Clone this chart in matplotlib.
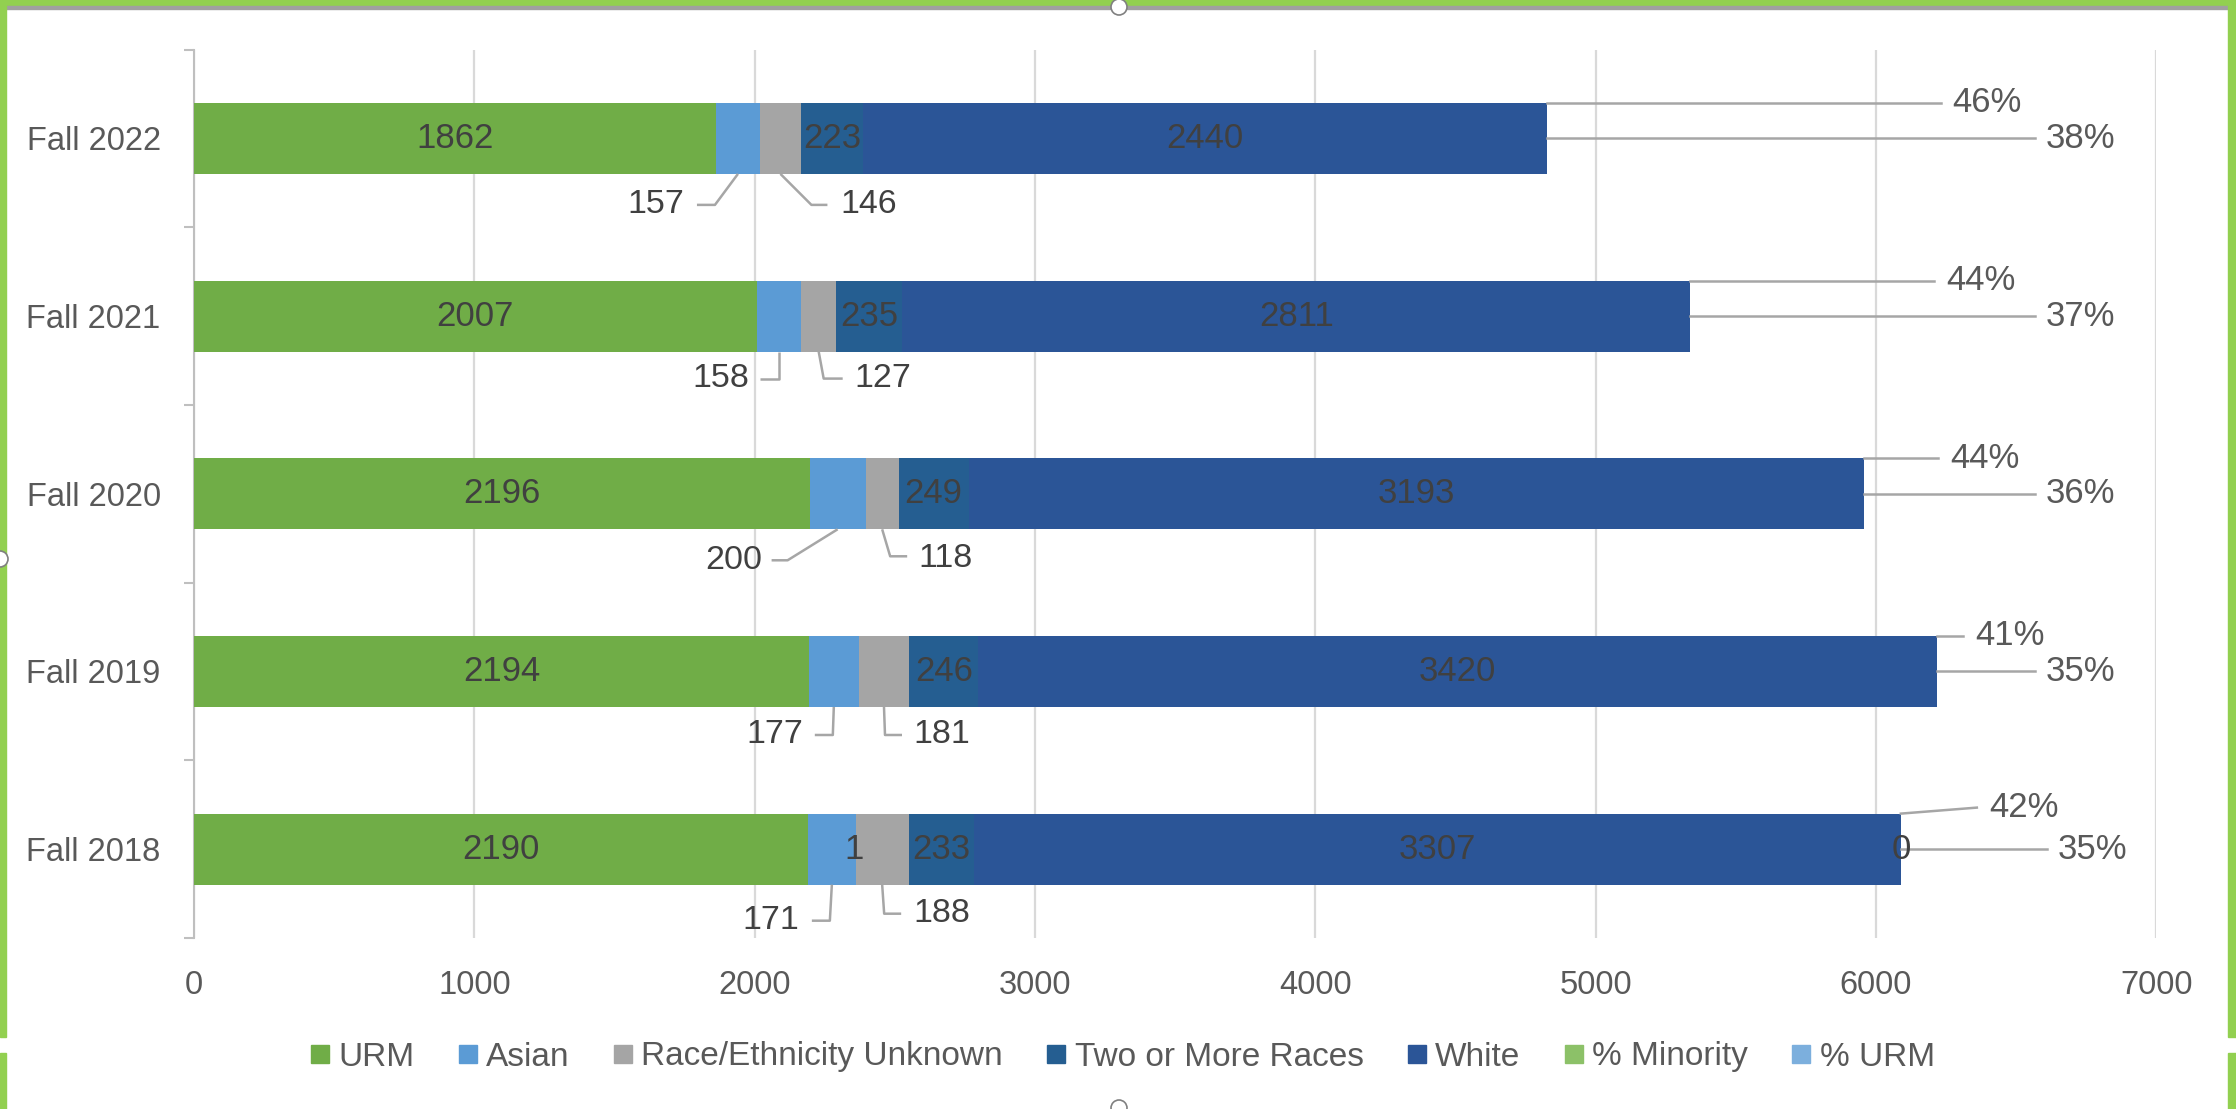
import matplotlib
matplotlib.use("Agg")
import matplotlib.pyplot as plt
from matplotlib.patches import Rectangle, Ellipse
from matplotlib.lines import Line2D
import numpy as np

plt.rcParams['font.family'] = ['Liberation Sans', 'DejaVu Sans']

# ---------------- data (bottom row first) ----------------
terms = ['Fall 2018', 'Fall 2019', 'Fall 2020', 'Fall 2021', 'Fall 2022']
urm = [2190, 2194, 2196, 2007, 1862]
asian = [171, 177, 200, 158, 157]
unknown = [188, 181, 118, 127, 146]
two_more = [233, 246, 249, 235, 223]
white = [3307, 3420, 3193, 2811, 2440]
pct_minority = [42, 41, 44, 44, 46]
pct_urm = [35, 35, 36, 37, 38]
x_ticks = [0, 1000, 2000, 3000, 4000, 5000, 6000, 7000]
series_names = ['URM', 'Asian', 'Race/Ethnicity Unknown', 'Two or More Races',
                'White', '% Minority', '% URM']

# ---------------- styles / label placement ----------------
colors = ['#70AD47', '#5B9BD5', '#A5A5A5', '#255E91', '#2B5597', '#8CC168', '#7CAFDD']
LBL = '#404040'
AX = '#595959'
LEAD = '#A6A6A6'
FS = 23.5

# leader offsets in pixels (bend dx, bend dy, end dx, end dy), text offset
asian_lead = [(-2, 36, -20, 36), (-1, 28, -19, 28), (-50, 31, -66, 31),
              (0, 27, -19, 27), (-23, 31, -41, 31)]
asian_txt = [(-33, 36), (-31, 28), (-75, 31), (-29, 27), (-54, 31)]
unk_lead = [(2, 29, 19, 29), (1, 28, 18, 28), (8, 27, 25, 27),
            (5, 27, 24, 27), (31, 31, 47, 31)]
unk_txt = [(31, 29), (29, 28), (36, 29), (36, 27), (60, 31)]
minority_x = [6403, 6353, 6266, 6251, 6274]   # label left edge (data units)
minority_dy = [-6, 0, 0, 0, 0]
urm_x = [6649, 6607, 6607, 6607, 6607]

W, H = 2236, 1109
fig = plt.figure(figsize=(W / 100, H / 100), dpi=100)
fig.patch.set_facecolor('white')
ax = fig.add_axes([194 / W, 1 - 938 / H, (2156.2 - 194) / W, (938 - 49.5) / H])

y = np.arange(len(terms))
bh = 0.4
segs = [urm, asian, unknown, two_more, white]
left = np.zeros(len(terms))
lefts = []
for vals, c in zip(segs, colors[:5]):
    ax.barh(y, vals, left=left, height=bh, color=c, zorder=3)
    lefts.append(left.copy())
    left = left + np.array(vals)
totals = left

ax.set_xlim(0, 7000)
ax.set_ylim(-0.5, len(terms) - 0.5)
ax.set_xticks(x_ticks)
ax.set_xticklabels([str(t) for t in x_ticks])
ax.set_yticks(y)
ax.set_yticklabels(terms)
ax.set_yticks(np.arange(-0.5, len(terms)), minor=True)
ax.tick_params(axis='x', length=0, labelsize=FS, labelcolor=AX, pad=23)
ax.tick_params(axis='y', which='major', length=0, labelsize=FS, labelcolor=AX, pad=24)
ax.tick_params(axis='y', which='minor', length=7.2, width=1.5, color='#BFBFBF')
ax.grid(axis='x', color='#D9D9D9', linewidth=1.6, zorder=0)
for s in ['top', 'right', 'bottom']:
    ax.spines[s].set_visible(False)
ax.spines['left'].set_color('#BFBFBF')
ax.spines['left'].set_linewidth(1.5)
ax.set_axisbelow(True)

fig.canvas.draw()


def pxoff(x, yv, dx, dy):
    X, Y = ax.transData.transform((x, yv))
    return ax.transData.inverted().transform((X + dx, Y - dy))


# in-bar labels
for i in range(len(terms)):
    for k in (0, 3, 4):
        v = segs[k][i]
        ax.text(lefts[k][i] + v / 2, y[i], str(v), ha='center', va='center',
                fontsize=FS + 1.5, color=LBL, zorder=5)

# below labels with leaders
for i in range(len(terms)):
    for k, lead, txt, ha in ((1, asian_lead, asian_txt, 'right'),
                             (2, unk_lead, unk_txt, 'left')):
        cx = lefts[k][i] + segs[k][i] / 2
        by = y[i] - bh / 2
        bdx, bdy, edx, edy = lead[i]
        p1 = pxoff(cx, by, bdx, bdy)
        p2 = pxoff(cx, by, edx, edy)
        ax.plot([cx, p1[0], p2[0]], [by, p1[1], p2[1]], color=LEAD, lw=1.8,
                zorder=4, solid_capstyle='butt')
        tp = pxoff(cx, by, txt[i][0], txt[i][1])
        ax.text(tp[0], tp[1], str(segs[k][i]), ha=ha, va='center',
                fontsize=FS + 1, color=LBL, zorder=5)

# percent labels on the right
for i in range(len(terms)):
    end = totals[i]
    top = y[i] + bh / 2
    lp = pxoff(minority_x[i], top, 0, minority_dy[i])
    le = pxoff(minority_x[i], top, -12, minority_dy[i])
    ax.plot([end, le[0]], [top, le[1]], color=LEAD, lw=1.8, zorder=4, clip_on=False)
    ax.text(lp[0], lp[1], f'{pct_minority[i]}%', ha='left', va='center',
            fontsize=FS + 1.5, color=AX, zorder=5, clip_on=False)
    ue = pxoff(urm_x[i], y[i], -11, 0)
    ax.plot([end, ue[0]], [y[i], y[i]], color=LEAD, lw=1.8, zorder=4, clip_on=False)
    ax.text(urm_x[i], y[i], f'{pct_urm[i]}%', ha='left', va='center',
            fontsize=FS + 1.5, color=AX, zorder=5, clip_on=False)

# stray labels of the % series in the Fall 2018 row
ax.text(lefts[2][0] - 7, y[0], '1', ha='center', va='center', fontsize=FS + 1.5,
        color=LBL, zorder=5)
ax.text(totals[0], y[0], '0', ha='center', va='center', fontsize=FS + 1.5,
        color=LBL, zorder=5)

# legend
handles = [Line2D([], [], marker='s', linestyle='', markersize=13,
                  markerfacecolor=c, markeredgecolor=c) for c in colors]
fig.legend(handles, series_names, loc='center', bbox_to_anchor=(0.502, 1 - 1057 / H),
           ncol=7, frameon=False, fontsize=FS + 0.5, labelcolor=AX, handlelength=0.6,
           handletextpad=0.25, columnspacing=1.3, borderaxespad=0)

# screenshot frame decorations
G = '#92D050'
def frect(x0, y0, w, h, c):
    fig.patches.append(Rectangle((x0 / W, 1 - (y0 + h) / H), w / W, h / H,
                                 transform=fig.transFigure, color=c, zorder=10))
frect(0, 0, W, 6, G)
frect(6, 6, W - 14, 3, '#A0A0A0')
frect(0, 0, 6, 1037, G)
frect(0, 1053, 6, H - 1053, G)
frect(W - 8, 0, 8, 1037, G)
frect(W - 8, 1053, 8, H - 1053, G)
for (cx, cy) in [(1119, 7), (1119, 1108), (0, 559)]:
    fig.patches.append(Ellipse((cx / W, 1 - cy / H), 16 / W, 16 / H,
                               transform=fig.transFigure, facecolor='white',
                               edgecolor='#808080', lw=1.2, zorder=11))

fig.savefig('out.png', dpi=100, facecolor='white')
